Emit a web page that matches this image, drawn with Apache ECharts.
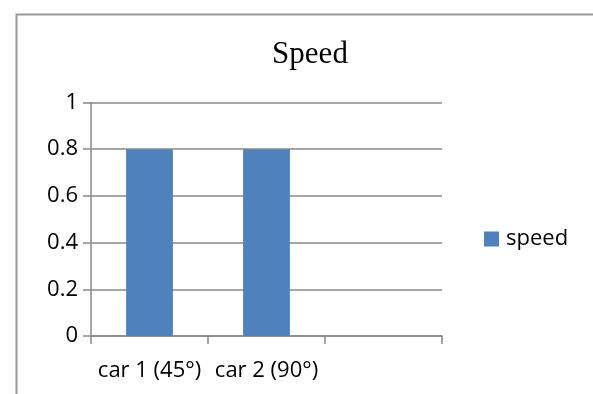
<!DOCTYPE html>
<html>
<head>
<meta charset="utf-8">
<script src="https://cdn.jsdelivr.net/npm/echarts@6/dist/echarts.min.js"></script>
<style>
  html, body { margin: 0; padding: 0; background: #fff; }
  #chart { width: 593px; height: 394px; }
</style>
</head>
<body>
<div id="chart"></div>
<script>
// Speed per car, with an empty third slot on the category axis
const categories = ['car 1 (45°)', 'car 2 (90°)', ''];
const speedValues = [0.8, 0.8, null];
const seriesName = 'speed';
const yTicks = { min: 0, max: 1, interval: 0.2 };

const chart = echarts.init(document.getElementById('chart'), null, { renderer: 'canvas' });
const labelFont = '"Open Sans", "Noto Sans", sans-serif';
const labelSize = 22;

chart.setOption({
  animation: false,
  backgroundColor: '#fff',
  title: {
    text: 'Speed',
    left: 305,
    textAlign: 'center',
    top: 34,
    textStyle: { fontFamily: '"Liberation Serif", "Times New Roman", serif', fontSize: 31, fontWeight: 'normal', color: '#000' }
  },
  legend: {
    data: [seriesName],
    left: 484,
    top: 228,
    padding: 0,
    itemWidth: 15,
    itemHeight: 15,
    itemGap: 7,
    icon: 'rect',
    textStyle: { fontFamily: labelFont, fontSize: labelSize, color: '#000', padding: [0, 0, 0, 2] }
  },
  grid: { left: 91, right: 151, top: 102.5, bottom: 58, containLabel: false },
  xAxis: {
    type: 'category',
    data: categories,
    boundaryGap: true,
    axisLine: { lineStyle: { color: '#888', width: 1.5 } },
    axisTick: { show: true, length: 8, lineStyle: { color: '#888', width: 1.5 } },
    axisLabel: { margin: 24, interval: 0, fontFamily: labelFont, fontSize: labelSize, color: '#000' }
  },
  yAxis: {
    type: 'value',
    min: yTicks.min,
    max: yTicks.max,
    interval: yTicks.interval,
    axisLine: { show: true, lineStyle: { color: '#888', width: 1.5 } },
    axisTick: { show: true, length: 8, lineStyle: { color: '#888', width: 1.5 } },
    splitLine: { show: true, lineStyle: { color: '#888', width: 1.5 } },
    axisLabel: { margin: 13, fontFamily: labelFont, fontSize: labelSize, color: '#000' }
  },
  series: [{
    name: seriesName,
    type: 'bar',
    data: speedValues,
    barWidth: '40%',
    itemStyle: { color: '#4F81BD' }
  }],
  graphic: [{
    type: 'rect',
    left: 14,
    top: 12,
    shape: { x: 0, y: 0, width: 620, height: 420 },
    style: { fill: 'none', stroke: '#999', lineWidth: 2 },
    silent: true,
    z: -1
  }]
});
</script>
</body>
</html>
